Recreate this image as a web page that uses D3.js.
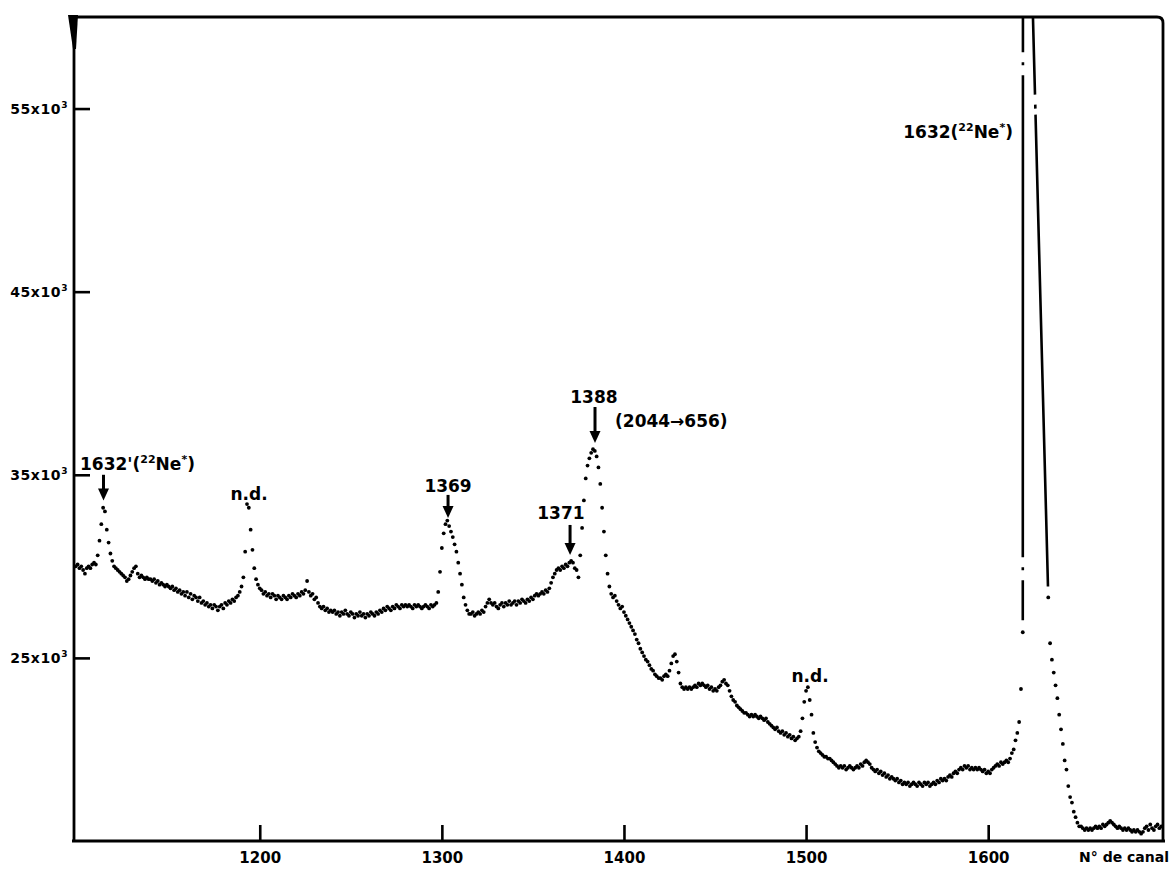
<!DOCTYPE html>
<html>
<head>
<meta charset="utf-8">
<script src="https://cdn.jsdelivr.net/npm/d3@7"></script>
<style>
	body { margin: 0; background: #fff; }
	svg { display: block; font-family: "DejaVu Sans", sans-serif; font-weight: bold; }
</style>
</head>
<body>
<div id="graphic"></div>
<script>
// gamma spectrum, one value per channel (counts in thousands), null = channel not plotted
const firstChannel = 1099;
const counts = [
	30.0, 30.1, 29.9, 30.0, 29.8, 29.6, 29.9, 30.0, 29.9, 30.1, // 1099
	30.2, 30.1, 30.6, 31.4, 32.3, 33.2, 33.0, 32.0, 31.3, 30.7, // 1109
	30.3, 30.0, 29.9, 29.8, 29.7, 29.6, 29.5, 29.4, 29.2, 29.3, // 1119
	29.5, 29.7, 29.9, 30.0, 29.6, 29.4, 29.5, 29.4, 29.3, 29.4, // 1129
	29.3, 29.3, 29.2, 29.3, 29.1, 29.2, 29.0, 29.1, 29.0, 28.9, // 1139
	29.0, 28.9, 28.8, 28.9, 28.7, 28.8, 28.6, 28.7, 28.5, 28.6, // 1149
	28.4, 28.6, 28.3, 28.5, 28.2, 28.4, 28.3, 28.1, 28.3, 28.0, // 1159
	28.1, 27.9, 28.0, 27.8, 27.9, 27.7, 27.9, 27.8, 27.6, 27.8, // 1169
	27.9, 27.7, 28.0, 27.9, 28.1, 28.0, 28.2, 28.1, 28.3, 28.4, // 1179
	28.6, 28.9, 29.4, 30.8, 33.4, 33.2, 32.0, 30.9, 29.9, 29.3, // 1189
	29.0, 28.8, 28.7, 28.5, 28.6, 28.4, 28.5, 28.3, 28.5, 28.4, // 1199
	28.2, 28.4, 28.3, 28.2, 28.4, 28.3, 28.2, 28.4, 28.3, 28.5, // 1209
	28.4, 28.3, 28.5, 28.4, 28.6, 28.5, 28.7, 29.2, 28.6, 28.4, // 1219
	28.5, 28.2, 28.3, 28.0, 27.8, 27.7, 27.8, 27.6, 27.7, 27.5, // 1229
	27.6, 27.5, 27.6, 27.4, 27.5, 27.3, 27.5, 27.4, 27.6, 27.4, // 1239
	27.3, 27.5, 27.4, 27.2, 27.4, 27.3, 27.5, 27.3, 27.4, 27.2, // 1249
	27.4, 27.3, 27.5, 27.4, 27.3, 27.5, 27.4, 27.6, 27.5, 27.7, // 1259
	27.6, 27.8, 27.7, 27.6, 27.8, 27.7, 27.9, 27.8, 27.7, 27.9, // 1269
	27.8, 27.9, 27.8, 27.9, 27.8, 27.7, 27.9, 27.8, 27.9, 27.8, // 1279
	27.7, 27.8, 27.9, 27.8, 27.7, 27.9, 27.8, 27.9, 28.0, 28.6, // 1289
	29.7, 31.0, 31.8, 32.3, 32.5, 32.2, 31.9, 31.6, 31.2, 30.8, // 1299
	30.2, 29.6, 29.0, 28.3, 27.9, 27.6, 27.4, 27.4, 27.5, 27.3, // 1309
	27.4, 27.5, 27.4, 27.6, 27.5, 27.8, 28.0, 28.2, 28.0, 27.9, // 1319
	28.0, 27.8, 27.7, 27.9, 28.0, 27.8, 28.0, 27.9, 28.1, 27.9, // 1329
	28.0, 28.1, 27.9, 28.1, 28.0, 28.2, 28.1, 28.0, 28.2, 28.1, // 1339
	28.3, 28.2, 28.4, 28.5, 28.4, 28.5, 28.6, 28.5, 28.7, 28.6, // 1349
	28.8, 29.1, 29.4, 29.6, 29.8, 29.9, 29.8, 30.0, 29.9, 30.1, // 1359
	30.0, 30.2, 30.3, 30.2, 29.9, 29.8, 29.4, 30.6, 32.1, 33.6, // 1369
	34.8, 35.5, 35.9, 36.2, 36.4, 36.3, 36.0, 35.4, 34.5, 33.2, // 1379
	31.9, 30.6, 29.6, 28.9, 28.5, 28.3, 28.4, 28.1, 27.9, 27.7, // 1389
	27.8, 27.5, 27.3, 27.1, 26.9, 26.7, 26.5, 26.3, 26.0, 25.8, // 1399
	25.5, 25.3, 25.1, 24.9, 24.8, 24.6, 24.4, 24.3, 24.1, 24.0, // 1409
	23.9, 23.9, 23.8, 24.0, 24.1, 24.0, 24.3, 24.7, 25.1, 25.2, // 1419
	24.8, 24.2, 23.6, 23.4, 23.3, 23.4, 23.3, 23.4, 23.3, 23.4, // 1429
	23.5, 23.4, 23.6, 23.5, 23.6, 23.5, 23.4, 23.5, 23.3, 23.4, // 1439
	23.2, 23.3, 23.2, 23.4, 23.5, 23.7, 23.8, 23.6, 23.5, 23.2, // 1449
	22.9, 22.7, 22.6, 22.4, 22.3, 22.2, 22.1, 22.0, 22.0, 21.9, // 1459
	21.8, 21.9, 21.8, 21.9, 21.8, 21.7, 21.8, 21.7, 21.6, 21.7, // 1469
	21.5, 21.4, 21.3, 21.2, 21.1, 21.2, 21.0, 20.9, 21.0, 20.8, // 1479
	20.9, 20.7, 20.8, 20.6, 20.7, 20.5, 20.6, 20.7, 21.0, 21.7, // 1489
	22.6, 23.2, 23.4, 22.7, 21.9, 20.9, 20.4, 20.1, 19.9, 19.8, // 1499
	19.7, 19.6, 19.6, 19.5, 19.5, 19.4, 19.3, 19.2, 19.1, 19.0, // 1509
	19.1, 19.0, 19.1, 18.9, 19.0, 19.1, 19.0, 18.9, 19.0, 19.1, // 1519
	19.0, 19.2, 19.1, 19.3, 19.4, 19.3, 19.2, 19.0, 18.9, 18.8, // 1529
	18.9, 18.7, 18.8, 18.6, 18.7, 18.5, 18.6, 18.4, 18.5, 18.4, // 1539
	18.3, 18.4, 18.2, 18.3, 18.1, 18.2, 18.1, 18.2, 18.0, 18.1, // 1549
	18.2, 18.1, 18.0, 18.2, 18.1, 18.0, 18.2, 18.1, 18.2, 18.0, // 1559
	18.1, 18.2, 18.1, 18.3, 18.2, 18.4, 18.3, 18.4, 18.3, 18.5, // 1569
	18.6, 18.5, 18.7, 18.8, 18.7, 18.9, 19.0, 18.9, 19.1, 19.0, // 1579
	19.1, 18.9, 19.0, 18.9, 19.0, 18.9, 19.0, 18.9, 18.8, 18.9, // 1589
	18.7, 18.8, 18.7, 18.9, 19.0, 19.1, 19.2, 19.1, 19.3, 19.2, // 1599
	19.3, 19.4, 19.3, 19.5, 19.8, 20.0, 20.5, 20.9, 21.5, 23.3, // 1609
	26.4, 400, 520, 480, 300, 62.2, null, null, null, null,     // 1619
	null, null, null, null, 28.3, 25.8, 24.9, 24.2, 23.5, 22.8, // 1629
	21.9, 21.1, 20.3, 19.4, 18.9, 18.0, 17.4, 17.1, 16.6, 16.3, // 1639
	16.0, 15.8, 15.8, 15.7, 15.6, 15.7, 15.6, 15.7, 15.6, 15.7, // 1649
	15.8, 15.7, 15.8, 15.7, 15.9, 15.8, 15.9, 16.0, 16.1, 16.0, // 1659
	15.9, 15.8, 15.7, 15.8, 15.7, 15.6, 15.7, 15.6, 15.7, 15.6, // 1669
	15.5, 15.6, 15.5, 15.6, 15.5, 15.4, 15.5, 15.7, 15.8, 15.6, // 1679
	15.9, 15.7, 15.6, 15.8, 15.9, 15.7, 15.8                    // 1689
];

const xTicks = [1200, 1300, 1400, 1500, 1600];
const yTicks = [25, 35, 45, 55];

// peak labels: text (^...^ = superscript), channel, count (thousands), anchor
const peakLabels = [
	{ text: "1632'(^22^Ne^*^)", ch: 1101.3, k: 35.26, anchor: 'start' },
	{ text: 'n.d.', ch: 1194.1, k: 33.62, anchor: 'middle' },
	{ text: '1369', ch: 1303.4, k: 34.06, anchor: 'middle' },
	{ text: '1371', ch: 1365.4, k: 32.59, anchor: 'middle' },
	{ text: '1388', ch: 1383.5, k: 38.92, anchor: 'middle' },
	{ text: '(2044\u2192656)', ch: 1395.1, k: 37.61, anchor: 'start' },
	{ text: 'n.d.', ch: 1502.2, k: 23.68, anchor: 'middle' },
	{ text: '1632(^22^Ne^*^)', ch: 1613.6, k: 53.39, anchor: 'end' }
];

// arrows pointing at peaks: channel, from / to count (thousands)
const arrows = [
	{ ch: 1114.2, from: 35.0, to: 33.6 },
	{ ch: 1303.4, from: 33.9, to: 32.64 },
	{ ch: 1370.4, from: 32.26, to: 30.62 },
	{ ch: 1384.1, from: 38.7, to: 36.74 }
];

// dash patterns of the two clipped flanks of the big peak (drawn upwards from the plotted point)
const flankDash = ['0,12,40,10,3,10,482,10,3,10,2000', '0,11,472,6,4,10,2000'];

let graphic = d3.select('#graphic');

function drawGraphic() {

	const width = 1172, height = 869;

	const x = d3.scaleLinear().domain([1098, 1696]).range([74, 1163]);
	const y = d3.scaleLinear().domain([15, 60]).range([841, 17]);

	const [x0, x1] = x.range();
	const [y1, y0] = y.range();

	let svg = graphic.append('svg')
		.attr('width', width)
		.attr('height', height);

	svg.append('clipPath').attr('id', 'plot-clip')
		.append('rect')
		.attr('x', x0).attr('y', y0)
		.attr('width', x1 - x0).attr('height', y1 - y0);

	//points, skipping the channels that were not plotted
	let points = counts
		.map((v, i) => ({ ch: firstChannel + i, v: v }))
		.filter(d => d.v !== null);

	let plot = svg.append('g').attr('clip-path', 'url(#plot-clip)');

	//the plotter joins points with a line where the jump is huge (main peak)
	let jumps = [];
	for (let i = 1; i < points.length; i++) {
		let a = points[i - 1], b = points[i];
		let onA = a.v <= 60, onB = b.v <= 60;
		if (Math.abs(y(a.v) - y(b.v)) > 150 && (onA || onB)) {
			jumps.push(onA ? [a, b] : [b, a]);
		}
	}

	plot.selectAll('line.flank')
		.data(jumps)
		.join('line')
		.attr('class', 'flank')
		.attr('x1', d => x(d[0].ch))
		.attr('y1', d => y(d[0].v))
		.attr('x2', d => x(d[1].ch))
		.attr('y2', d => y(d[1].v))
		.attr('stroke', '#000')
		.attr('stroke-width', 2.6)
		.attr('stroke-dasharray', (d, i) => flankDash[i % flankDash.length]);

	plot.selectAll('circle')
		.data(points.filter(d => d.v <= 60))
		.join('circle')
		.attr('cx', d => x(d.ch))
		.attr('cy', d => y(d.v))
		.attr('r', 1.9)
		.attr('fill', '#000');

	//axes, ticks pointing inwards
	let xAxis = d3.axisBottom(x)
		.tickValues(xTicks)
		.tickSize(-16)
		.tickPadding(11)
		.tickFormat(d3.format('d'));

	svg.append('g')
		.attr('class', 'x axis')
		.attr('transform', 'translate(0,' + y1 + ')')
		.call(xAxis)
		.call(g => g.select('.domain').remove())
		.call(g => g.selectAll('line').attr('stroke', '#000').attr('stroke-width', 2.6))
		.call(g => g.selectAll('text')
			.attr('fill', '#000')
			.attr('font-size', 15)
			.attr('font-family', '"DejaVu Sans", sans-serif')
			.attr('font-weight', 'bold'));

	let yAxis = d3.axisLeft(y)
		.tickValues(yTicks)
		.tickSize(-16)
		.tickPadding(6);

	svg.append('g')
		.attr('class', 'y axis')
		.attr('transform', 'translate(' + x0 + ',0)')
		.call(yAxis)
		.call(g => g.select('.domain').remove())
		.call(g => g.selectAll('line').attr('stroke', '#000').attr('stroke-width', 2.6))
		.selectAll('text')
		.attr('fill', '#000')
		.attr('font-size', 14)
		.attr('font-family', '"DejaVu Sans", sans-serif')
		.attr('font-weight', 'bold')
		.attr('letter-spacing', 0.6)
		.each(function (d) {
			let t = d3.select(this).text(null);
			t.append('tspan').text(d + 'x10');
			t.append('tspan').attr('dy', -6).attr('font-size', 9).text('3');
		});

	//frame: thick left axis and top, rounded top right corner
	svg.append('path')
		.attr('d', `M${x0},${y1} V${y0} H${x1 - 6} Q${x1},${y0} ${x1},${y0 + 6} V${y1}`)
		.attr('fill', 'none')
		.attr('stroke', '#000')
		.attr('stroke-width', 2.8);

	svg.append('line')
		.attr('x1', x0 - 2).attr('x2', x1 + 2)
		.attr('y1', y1).attr('y2', y1)
		.attr('stroke', '#000')
		.attr('stroke-width', 3);

	//ink blot where the left axis meets the top
	svg.append('path')
		.attr('d', `M${x0 - 6},${y0 - 2} L${x0 + 4},${y0 - 2} L${x0 + 2},${y0 + 32} L${x0 - 1},${y0 + 32} Z`)
		.attr('fill', '#000');

	//peak labels
	let labels = svg.append('g').attr('class', 'peak-labels');

	peakLabels.forEach(l => {
		let t = labels.append('text')
			.attr('x', x(l.ch))
			.attr('y', y(l.k))
			.attr('text-anchor', l.anchor)
			.attr('font-size', 17)
			.attr('fill', '#000');
		l.text.split('^').forEach((part, i) => {
			if (part === '') return;
			let sup = i % 2 === 1;
			t.append('tspan')
				.attr('dy', sup ? -7 : (i > 0 ? 7 : 0))
				.attr('font-size', sup ? 11 : 17)
				.text(part);
		});
	});

	//arrows
	let arrowG = svg.append('g').attr('class', 'arrows');

	arrowG.selectAll('line')
		.data(arrows)
		.join('line')
		.attr('x1', d => x(d.ch))
		.attr('x2', d => x(d.ch))
		.attr('y1', d => y(d.from))
		.attr('y2', d => y(d.to) - 10)
		.attr('stroke', '#000')
		.attr('stroke-width', 3);

	arrowG.selectAll('path')
		.data(arrows)
		.join('path')
		.attr('d', d => {
			let ax = x(d.ch), ay = y(d.to);
			return `M${ax - 5.5},${ay - 12} L${ax + 5.5},${ay - 12} L${ax},${ay} Z`;
		})
		.attr('fill', '#000');

	//axis title, kept inside the page on the right
	svg.append('text')
		.attr('x', width - 3)
		.attr('y', y1 + 21)
		.attr('text-anchor', 'end')
		.attr('font-size', 14)
		.attr('fill', '#000')
		.text('N\u00b0 de canal');
}

drawGraphic();
</script>
</body>
</html>
